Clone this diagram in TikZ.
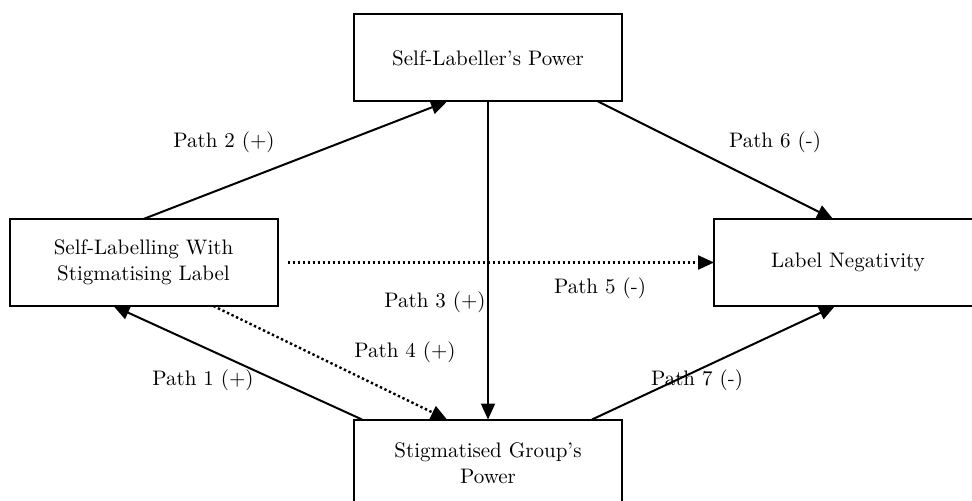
\documentclass[tikz,border=0pt]{standalone}
\usepackage{amsmath}
\usepackage{tikz}
\usetikzlibrary{arrows.meta}
\tikzstyle{box}=[draw, line width=1pt, minimum width=134pt, minimum height=43.5pt, inner sep=0pt, outer sep=0pt, align=center, font=\fontsize{10.5}{13}\selectfont]
\tikzstyle{lab}=[font=\fontsize{10.5}{13}\selectfont]
\tikzstyle{arr}=[line width=1pt, -{Triangle[length=8pt,width=7pt]}]
\tikzstyle{dotarr}=[arr, line width=1.2pt, dash pattern=on 1.2pt off 1.3pt]

\begin{document}
\begin{tikzpicture}[x=0.5pt, y=-0.5pt]
		   \useasboundingbox (0,0) rectangle (972,501);
		   \begin{scope}
			   \node (sp) at (488, 58)[box] {Self-Labeller's Power};
			   \node (sl) at (143.5, 262.5)[box] {Self-Labelling With\\Stigmatising Label};
			   \node (ln) at (848, 262.5)[box] {Label Negativity};
			   \node (sg) at (488, 463)[box] {Stigmatised Group's\\Power};
		   \end{scope}
		   \begin{scope}
			   \node (p1) at (203, 380)[lab] {Path 1 (+)};
			   \node (p2) at (224, 142)[lab] {Path 2 (+)};
			   \node (p3) at (435, 302)[lab] {Path 3 (+)};
			   \node (p4) at (405, 352)[lab] {Path 4 (+)};
			   \node (p5) at (600, 288)[lab] {Path 5 (-)};
			   \node (p6) at (775, 142)[lab] {Path 6 (-)};
			   \node (p7) at (697, 380)[lab] {Path 7 (-)};
		   \end{scope}
		   \begin{scope}
			   \path [arr] ([xshift=-63pt]sg.north) edge ([xshift=-15pt]sl.south);
			   \path [arr] (sl.north) edge ([xshift=-20.5pt]sp.south);
			   \path [arr] (sp.south) edge (sg.north);
			   \path [dotarr] ([xshift=35pt]sl.south) edge ([xshift=-20.5pt]sg.north);
			   \path [dotarr] ([xshift=5pt]sl.east) edge (ln.west);
			   \path [arr] ([xshift=55pt]sp.south) edge ([xshift=-7.5pt]ln.north);
			   \path [arr] ([xshift=52pt]sg.north) edge ([xshift=-6.5pt]ln.south);
		   \end{scope}
	   \end{tikzpicture}
\end{document}
